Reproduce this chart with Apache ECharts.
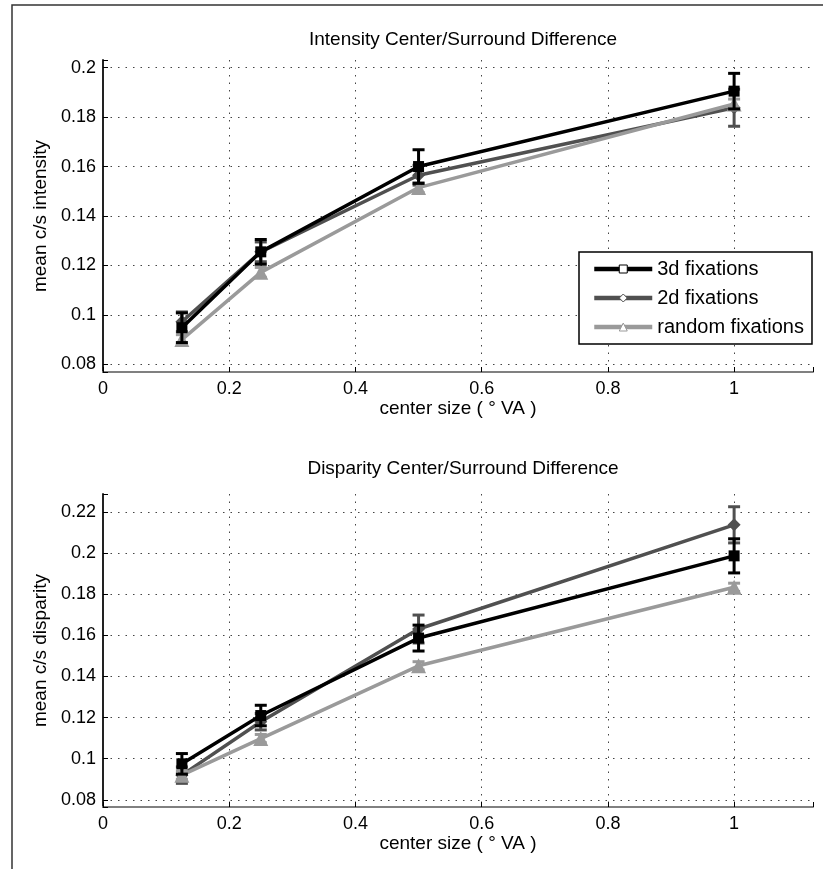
<!DOCTYPE html>
<html>
<head>
<meta charset="utf-8">
<script src="https://cdn.jsdelivr.net/npm/echarts@6/dist/echarts.min.js"></script>
<style>
  html, body { margin: 0; padding: 0; background: #fff; }
  #chart { width: 823px; height: 869px; }
</style>
</head>
<body>
<div id="chart"></div>
<script>
  // center sizes (deg visual angle)
  let centerSizes = [0.125, 0.25, 0.5, 1];
  let seriesNames = ['3d fixations', '2d fixations', 'random fixations'];

  // Intensity center/surround difference
  let int3d = [0.0948, 0.1255, 0.1600, 0.1905];
  let int3dErr = [0.006, 0.005, 0.0068, 0.0072];
  let int2d = [0.0972, 0.1255, 0.1565, 0.1838];
  let int2dErr = [0.004, 0.004, 0.004, 0.0075];
  let intRnd = [0.0900, 0.1172, 0.1515, 0.1853];
  let intRndErr = [0.002, 0.002, 0.002, 0.002];

  // Disparity center/surround difference
  let disp3d = [0.0975, 0.1210, 0.1587, 0.1987];
  let disp3dErr = [0.005, 0.005, 0.0063, 0.0083];
  let disp2d = [0.0920, 0.1180, 0.1631, 0.2138];
  let disp2dErr = [0.004, 0.004, 0.0068, 0.0088];
  let dispRnd = [0.0920, 0.1098, 0.1452, 0.1834];
  let dispRndErr = [0.002, 0.002, 0.002, 0.002];

  // tick labels
  let xTicks = [0, 0.2, 0.4, 0.6, 0.8, 1];
  let yTicksInt = [0.08, 0.1, 0.12, 0.14, 0.16, 0.18, 0.2];
  let yTicksDisp = [0.08, 0.1, 0.12, 0.14, 0.16, 0.18, 0.2, 0.22];

  let colors = ['#000000', '#505050', '#9a9a9a'];
  let symbols = ['rect', 'diamond', 'triangle'];
  let symbolSizes = [11, 13, 15];
  let zOrder = [8, 6, 7];
  let font = 'Liberation Sans, Arial, Helvetica, sans-serif';

  let myChart = echarts.init(document.getElementById('chart'));

  function tickFormatter(ticks) {
    return function (v) {
      let hit = ticks.find(t => Math.abs(t - v) < 1e-6);
      return hit === undefined ? '' : String(+hit.toFixed(3));
    };
  }

  function xAxisOf(gridIndex) {
    return {
      type: 'value', gridIndex: gridIndex,
      min: 0, max: 1.125, minInterval: 0.2, maxInterval: 0.2,
      name: 'center size ( \u00b0 VA )', nameLocation: 'middle', nameGap: 23,
      nameTextStyle: { fontFamily: font, fontSize: 19, color: '#000' },
      axisLine: { show: true, onZero: false, lineStyle: { color: '#808080', width: 2 } },
      axisTick: { show: true, inside: true, length: 5, lineStyle: { color: '#000' } },
      axisLabel: { fontFamily: font, fontSize: 18, color: '#000', margin: 8, formatter: tickFormatter(xTicks) },
      splitLine: { show: true, showMinLine: false, showMaxLine: false, lineStyle: { type: [1.5, 6], color: '#444', width: 1 } }
    };
  }

  function yAxisOf(gridIndex, min, max, ticks, label) {
    return {
      type: 'value', gridIndex: gridIndex,
      min: min, max: max, minInterval: 0.02, maxInterval: 0.02,
      name: label, nameLocation: 'middle', nameGap: 53, nameRotate: 90,
      nameTextStyle: { fontFamily: font, fontSize: 19, color: '#000' },
      axisLine: { show: true, onZero: false, lineStyle: { color: '#222', width: 2 } },
      axisTick: { show: true, inside: true, length: 5, lineStyle: { color: '#000' } },
      axisLabel: { fontFamily: font, fontSize: 18, color: '#000', margin: 7, formatter: tickFormatter(ticks) },
      splitLine: { show: true, showMinLine: false, showMaxLine: false, lineStyle: { type: [1.5, 6], color: '#444', width: 1 } }
    };
  }

  function lineSeries(name, idx, gridIndex, values) {
    return {
      name: name, type: 'line',
      xAxisIndex: gridIndex, yAxisIndex: gridIndex,
      data: centerSizes.map((x, i) => [x, values[i]]),
      symbol: symbols[idx], symbolSize: symbolSizes[idx],
      lineStyle: { color: colors[idx], width: 3.5 },
      itemStyle: { color: colors[idx] },
      z: zOrder[idx],
      animation: false
    };
  }

  function errSeries(name, idx, gridIndex, values, errs) {
    return {
      name: name, type: 'custom',
      xAxisIndex: gridIndex, yAxisIndex: gridIndex,
      data: centerSizes.map((x, i) => [x, values[i], errs[i]]),
      z: zOrder[idx],
      animation: false,
      renderItem: function (params, api) {
        let x = api.value(0), y = api.value(1), e = api.value(2);
        let lo = api.coord([x, y - e]);
        let hi = api.coord([x, y + e]);
        let w = 6;
        let style = { stroke: colors[idx], lineWidth: 3 };
        return {
          type: 'group',
          children: [
            { type: 'line', shape: { x1: lo[0], y1: lo[1], x2: hi[0], y2: hi[1] }, style: style },
            { type: 'line', shape: { x1: lo[0] - w, y1: lo[1], x2: lo[0] + w, y2: lo[1] }, style: style },
            { type: 'line', shape: { x1: hi[0] - w, y1: hi[1], x2: hi[0] + w, y2: hi[1] }, style: style }
          ]
        };
      }
    };
  }

  let intData = [int3d, int2d, intRnd];
  let intErr = [int3dErr, int2dErr, intRndErr];
  let dispData = [disp3d, disp2d, dispRnd];
  let dispErr = [disp3dErr, disp2dErr, dispRndErr];

  // line series first so the legend takes its icon from them
  let series = [];
  seriesNames.forEach((n, i) => {
    series.push(lineSeries(n, i, 0, intData[i]));
    series.push(lineSeries(n, i, 1, dispData[i]));
  });
  seriesNames.forEach((n, i) => {
    series.push(errSeries(n, i, 0, intData[i], intErr[i]));
    series.push(errSeries(n, i, 1, dispData[i], dispErr[i]));
  });

  let option = {
    backgroundColor: '#fff',
    animation: false,
    title: [
      { text: 'Intensity Center/Surround Difference', left: 458, top: 25, textAlign: 'center',
        textStyle: { fontFamily: font, fontSize: 19, fontWeight: 'normal', color: '#000' } },
      { text: 'Disparity Center/Surround Difference', left: 458, top: 454, textAlign: 'center',
        textStyle: { fontFamily: font, fontSize: 19, fontWeight: 'normal', color: '#000' } }
    ],
    grid: [
      { left: 103, top: 60, width: 710, height: 312 },
      { left: 103, top: 494, width: 710, height: 313 }
    ],
    xAxis: [xAxisOf(0), xAxisOf(1)],
    yAxis: [
      yAxisOf(0, 0.0769, 0.2031, yTicksInt, 'mean c/s intensity'),
      yAxisOf(1, 0.0765, 0.2288, yTicksDisp, 'mean c/s disparity')
    ],
    legend: {
      orient: 'vertical', left: 579, top: 252,
      backgroundColor: '#fff', borderColor: '#000', borderWidth: 1.5, borderRadius: 0,
      padding: [7, 8, 7, 13],
      itemWidth: 58, itemHeight: 10, itemGap: 9,
      textStyle: { fontFamily: font, fontSize: 20, color: '#000' },
      data: seriesNames.map((n, i) => ({
        name: n,
        itemStyle: { color: '#fff', borderColor: colors[i], borderWidth: 1 },
        lineStyle: { color: colors[i], width: 4.5 }
      }))
    },
    graphic: [
      { type: 'polyline', silent: true,
        shape: { points: [[12, 869], [12, 5], [823, 5]] },
        style: { stroke: '#333', lineWidth: 1.5, fill: null } }
    ],
    series: series
  };

  myChart.setOption(option);
</script>
</body>
</html>
